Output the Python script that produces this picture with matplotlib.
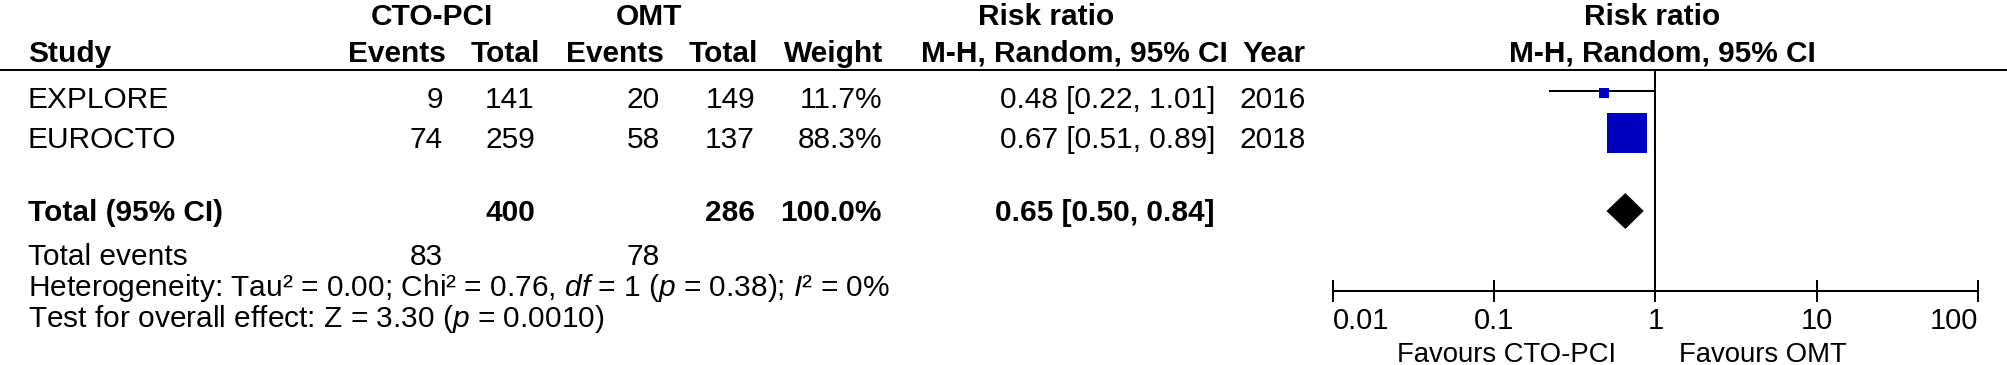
import matplotlib
matplotlib.use('Agg')
import matplotlib.pyplot as plt
from matplotlib.patches import Polygon

plt.rcParams['font.family'] = ['Liberation Sans', 'DejaVu Sans']
plt.rcParams['mathtext.fontset'] = 'custom'
plt.rcParams['mathtext.rm'] = 'Liberation Sans'
plt.rcParams['mathtext.it'] = 'Liberation Sans:italic'
plt.rcParams['mathtext.bf'] = 'Liberation Sans:bold'

# ---------------- data ----------------
studies = ['EXPLORE', 'EUROCTO']
cto_events = [9, 74]
cto_total = [141, 259]
omt_events = [20, 58]
omt_total = [149, 137]
weights = [11.7, 88.3]
rr = [0.48, 0.67]
ci_low = [0.22, 0.51]
ci_high = [1.01, 0.89]
years = [2016, 2018]

pooled_rr = 0.65
pooled_low = 0.50
pooled_high = 0.84
pooled_cto_total = 400
pooled_omt_total = 286
pooled_weight = 100.0
total_events_cto = 83
total_events_omt = 78

tick_values = [0.01, 0.1, 1, 10, 100]
tick_labels = ['0.01', '0.1', '1', '10', '100']
group_labels = ['CTO-PCI', 'OMT']
favour_labels = ['Favours CTO-PCI', 'Favours OMT']
heterogeneity_text = (r'Heterogeneity: Tau² = 0.00; Chi² = 0.76, $\mathit{df}$ = 1 '
                      r'($\mathit{p}$ = 0.38); $\mathit{I}$² = 0%')
overall_text = r'Test for overall effect: Z = 3.30 ($\mathit{p}$ = 0.0010)'

# ---------------- layout ----------------
W, H = 2008, 365
DPI = 100
FS = 21.5      # table text
FS_TICK = 20.8 # forest tick labels
FS_AX = 19.8   # favours labels
LW = 1.44
BLUE = '#0000C0'

fig = plt.figure(figsize=(W / DPI, H / DPI), dpi=DPI)
bg = fig.add_axes([0, 0, 1, 1])
bg.set_xlim(0, W)
bg.set_ylim(H, 0)
bg.axis('off')


def t(x, y, s, ha='left', bold=False, size=FS, **kw):
    bg.text(x, y, s, ha=ha, va='baseline', fontsize=size,
            fontweight='bold' if bold else 'normal', color='black', **kw)

# column anchors (pixels)
X_STUDY = 28
X_CEV, X_CTOT, X_OEV, X_OTOT, X_W = 443, 535, 660, 755, 882
X_CI, X_YEAR = 1215, 1306
X_GRP = [432, 649]
X_RR_HDR = 1046

Y_H1, Y_H2 = 25, 62
Y_ROWS = [108, 148]
Y_TOTAL, Y_TEV, Y_HET, Y_OVR = 221, 265, 296, 327

# header row 1
for gx, gl in zip(X_GRP, group_labels):
    t(gx, Y_H1, gl, ha='center', bold=True)
t(X_RR_HDR, Y_H1, 'Risk ratio', ha='center', bold=True)

# header row 2
t(X_STUDY, Y_H2, 'Study', bold=True)
t(446, Y_H2, 'Events', ha='right', bold=True)
t(540, Y_H2, 'Total', ha='right', bold=True)
t(664, Y_H2, 'Events', ha='right', bold=True)
t(758, Y_H2, 'Total', ha='right', bold=True)
t(883, Y_H2, 'Weight', ha='right', bold=True)
t(1228, Y_H2, 'M-H, Random, 95% CI', ha='right', bold=True)
t(X_YEAR, Y_H2, 'Year', ha='right', bold=True)

bg.plot([0, W], [70, 70], color='black', lw=LW, solid_capstyle='butt')

# study rows
for i, y in enumerate(Y_ROWS):
    t(X_STUDY, y, studies[i])
    t(X_CEV, y, f'{cto_events[i]}', ha='right')
    t(X_CTOT, y, f'{cto_total[i]}', ha='right')
    t(X_OEV, y, f'{omt_events[i]}', ha='right')
    t(X_OTOT, y, f'{omt_total[i]}', ha='right')
    t(X_W, y, f'{weights[i]:.1f}%', ha='right')
    t(X_CI, y, f'{rr[i]:.2f} [{ci_low[i]:.2f}, {ci_high[i]:.2f}]', ha='right')
    t(X_YEAR, y, f'{years[i]}', ha='right')

# total row
t(X_STUDY, Y_TOTAL, 'Total (95% CI)', bold=True)
t(X_CTOT, Y_TOTAL, f'{pooled_cto_total}', ha='right', bold=True)
t(X_OTOT, Y_TOTAL, f'{pooled_omt_total}', ha='right', bold=True)
t(X_W, Y_TOTAL, f'{pooled_weight:.1f}%', ha='right', bold=True)
t(X_CI, Y_TOTAL, f'{pooled_rr:.2f} [{pooled_low:.2f}, {pooled_high:.2f}]',
  ha='right', bold=True)

t(X_STUDY, Y_TEV, 'Total events')
t(X_CEV, Y_TEV, f'{total_events_cto}', ha='right')
t(X_OEV, Y_TEV, f'{total_events_omt}', ha='right')
t(X_STUDY, Y_HET, heterogeneity_text)
t(X_STUDY, Y_OVR, overall_text)

# ---------------- forest plot ----------------
PX0, PX1 = 1333, 1978
PY_TOP, PY_AX = 70, 291
ax = fig.add_axes([PX0 / W, (H - PY_AX) / H, (PX1 - PX0) / W, (PY_AX - PY_TOP) / H])
ax.patch.set_alpha(0)
ax.set_xscale('log')
ax.set_xlim(tick_values[0], tick_values[-1])
ax.set_ylim(PY_AX, PY_TOP)
for s in ['top', 'left', 'right']:
    ax.spines[s].set_visible(False)
ax.spines['bottom'].set_linewidth(LW)
ax.yaxis.set_visible(False)
ax.set_xticks(tick_values)
ax.set_xticklabels(tick_labels)
ax.minorticks_off()
ax.tick_params(axis='x', direction='inout', length=16.5, width=LW, pad=3.5,
               labelsize=FS_TICK)
xl = ax.get_xticklabels()
xl[0].set_horizontalalignment('left')
xl[-1].set_horizontalalignment('right')

ax.axvline(1, color='black', lw=LW, zorder=1)

LINE_Y = [91, 133]
MARK_Y = [92.5, 133]
wmax = max(weights)
for i in range(len(studies)):
    ax.plot([ci_low[i], ci_high[i]], [LINE_Y[i], LINE_Y[i]], color='black',
            lw=LW, solid_capstyle='butt', zorder=2)
    side_px = 40 * (weights[i] / wmax) ** 0.7
    ax.plot([rr[i]], [MARK_Y[i]], marker='s', markersize=side_px * 0.72,
            color=BLUE, markeredgewidth=0, linestyle='none', zorder=3)

DY = 211
ax.add_patch(Polygon([(pooled_low, DY), (pooled_rr, DY - 17.5),
                      (pooled_high, DY), (pooled_rr, DY + 17.5)],
                     closed=True, facecolor='black', edgecolor='black', lw=0.5,
                     zorder=3))

t(1652, Y_H1, 'Risk ratio', ha='center', bold=True)
t(1662, Y_H2, 'M-H, Random, 95% CI', ha='center', bold=True)
t(1616, 362, favour_labels[0], ha='right', size=FS_AX)
t(1679, 362, favour_labels[1], ha='left', size=FS_AX)

fig.savefig('out.png', dpi=DPI)
